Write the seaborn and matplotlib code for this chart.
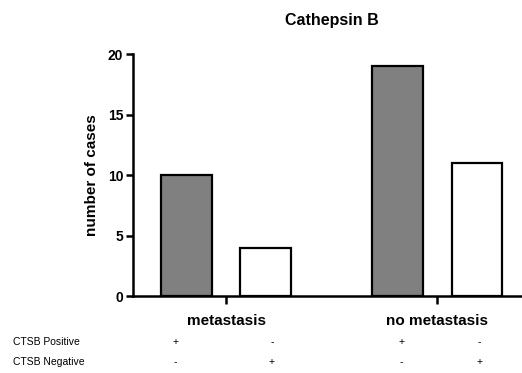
import matplotlib
matplotlib.use("Agg")
import matplotlib.pyplot as plt
import seaborn as sns
import pandas as pd
import matplotlib.transforms as mtransforms

categories = ["metastasis", "no metastasis"]
groups = ["CTSB Positive", "CTSB Negative"]
positive_cases = [10, 19]
negative_cases = [4, 11]
row_labels = ["CTSB Positive", "CTSB Negative"]
row_signs = [["+", "-", "+", "-"], ["-", "+", "-", "+"]]

df = pd.DataFrame({
    "category": categories * 2,
    "group": [groups[0]] * 2 + [groups[1]] * 2,
    "cases": positive_cases + negative_cases,
})

sns.set_style("ticks", {"axes.edgecolor": "black", "text.color": "black",
                        "xtick.color": "black", "ytick.color": "black",
                        "axes.labelcolor": "black"})
plt.rcParams["font.family"] = ["Liberation Sans", "DejaVu Sans"]

fig = plt.figure(figsize=(5.22, 3.73), dpi=100)
ax = fig.add_axes([0.2548, 0.2064, 0.7452, 0.6486])

sns.barplot(data=df, x="category", y="cases", hue="group", hue_order=groups,
            order=categories, palette=["#808080", "#ffffff"], width=0.75, gap=0.36,
            edgecolor="black", linewidth=1.6, saturation=1, legend=False, ax=ax)

ax.set_xlim(-0.44, 1.40)
ax.set_ylim(0, 20)
ax.set_yticks([0, 5, 10, 15, 20])
sns.despine(ax=ax)
for s in ["left", "bottom"]:
    ax.spines[s].set_linewidth(1.8)
    ax.spines[s].set_color("black")
ax.tick_params(axis="both", width=1.8, length=5, labelsize=10, pad=2, color="black", labelcolor="black")
ax.tick_params(axis="x", length=6, labelsize=11, pad=7)
for lab in ax.get_yticklabels() + ax.get_xticklabels():
    lab.set_fontweight("bold")
ax.set_xlabel("")
ax.set_ylabel("number of cases", fontsize=11, fontweight="bold", labelpad=6, color="black")
fig.text(0.635, 0.945, "Cathepsin B", ha="center", va="center", fontsize=11.5,
         fontweight="bold", color="black")

trans = mtransforms.blended_transform_factory(ax.transData, fig.transFigure)
sign_x = [-0.24, 0.217, 0.83, 1.20]
row_y = [1 - 342 / 373, 1 - 362 / 373]
for r, (lab, signs) in enumerate(zip(row_labels, row_signs)):
    fig.text(13 / 522, row_y[r], lab, ha="left", va="center", fontsize=7.5, color="black")
    for xs, s in zip(sign_x, signs):
        ax.text(xs, row_y[r], s, transform=trans, ha="center", va="center",
                fontsize=7.5, color="black", clip_on=False)

fig.savefig("out.png", dpi=100)
